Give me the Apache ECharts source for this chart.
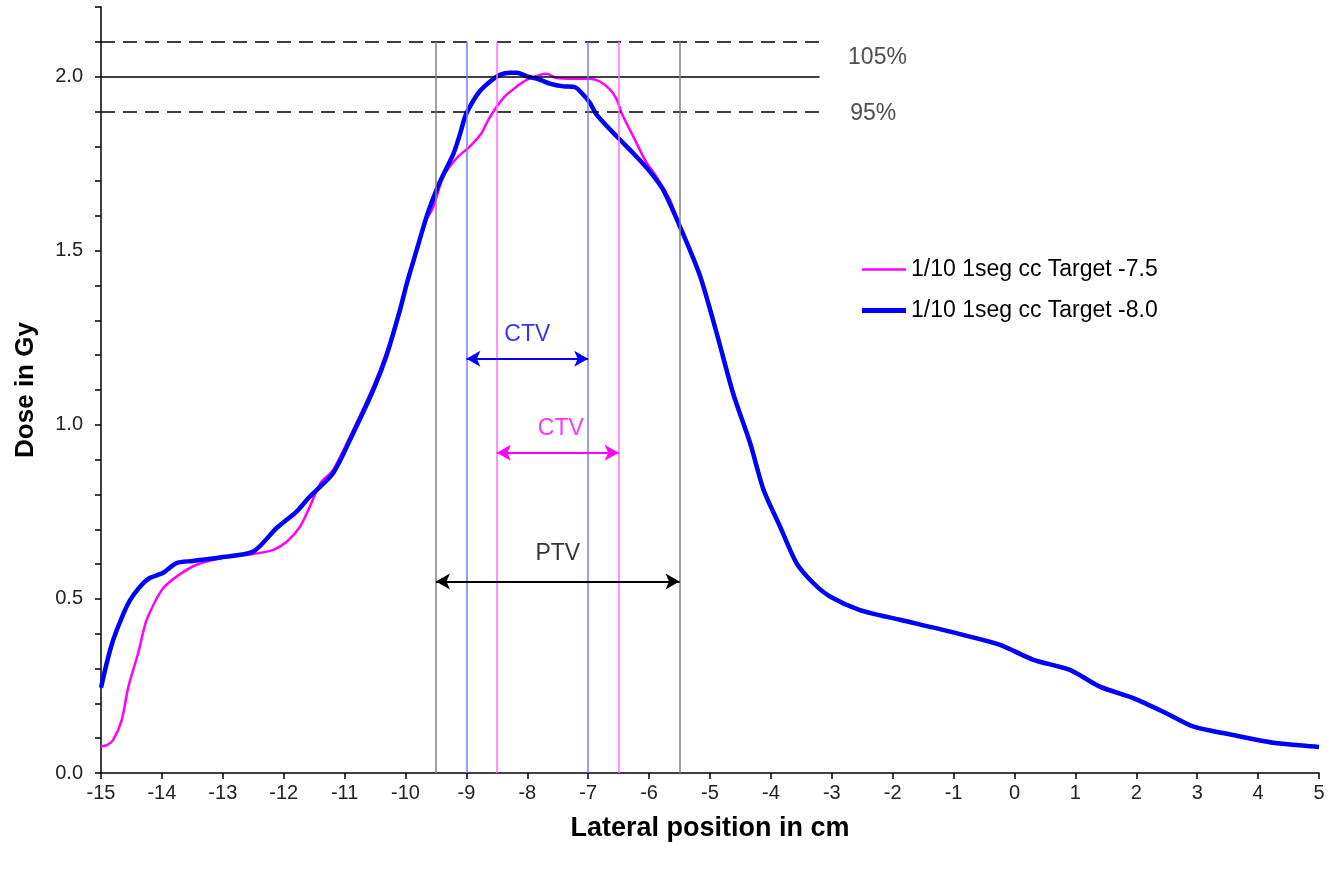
<!DOCTYPE html>
<html>
<head>
<meta charset="utf-8">
<script src="https://cdn.jsdelivr.net/npm/echarts@6/dist/echarts.min.js"></script>
<style>
html,body{margin:0;padding:0;background:#fff;}
#chart{width:1336px;height:873px;}
</style>
</head>
<body>
<div id="chart"></div>
<script>
// ---- Data ----
const seriesNames = ['1/10 1seg cc Target -7.5', '1/10 1seg cc Target -8.0'];

const posMagenta = [-15.0,-14.9,-14.8,-14.66,-14.55,-14.39,-14.25,-14.0,-13.76,-13.43,-12.94,-12.5,-12.17,-11.95,-11.73,-11.57,-11.4,-11.19,-10.86,-10.53,-10.31,-10.09,-9.98,-9.82,-9.65,-9.54,-9.38,-9.16,-8.94,-8.75,-8.64,-8.5,-8.34,-8.17,-8.01,-7.79,-7.68,-7.52,-7.24,-6.97,-6.81,-6.64,-6.53,-6.45,-6.26,-6.04,-5.88,-5.66,-5.47,-5.16,-4.89,-4.62,-4.34,-4.12,-3.85,-3.58,-3.3,-3.03,-2.54,-1.88,-1.06,-0.24,0.31,0.91,1.4,1.95,2.5,2.94,3.59,4.25,4.77,5.0];
const doseMagenta = [0.076,0.08,0.095,0.152,0.248,0.344,0.44,0.526,0.564,0.598,0.62,0.629,0.641,0.664,0.708,0.765,0.832,0.87,0.985,1.11,1.21,1.335,1.41,1.5,1.59,1.627,1.713,1.766,1.8,1.838,1.876,1.914,1.948,1.972,1.991,2.005,2.008,1.996,1.994,1.994,1.986,1.963,1.934,1.895,1.828,1.752,1.713,1.647,1.56,1.43,1.268,1.095,0.952,0.818,0.712,0.606,0.547,0.508,0.469,0.441,0.408,0.37,0.327,0.298,0.25,0.217,0.173,0.135,0.11,0.088,0.079,0.076];

const posBlue = [-15.0,-14.9,-14.8,-14.65,-14.52,-14.36,-14.2,-13.98,-13.76,-13.49,-13.05,-12.5,-12.12,-11.79,-11.57,-11.19,-10.86,-10.53,-10.31,-10.09,-9.98,-9.82,-9.65,-9.49,-9.38,-9.21,-9.1,-9.02,-8.91,-8.78,-8.61,-8.45,-8.28,-8.17,-8.01,-7.79,-7.63,-7.41,-7.22,-7.08,-6.97,-6.86,-6.53,-6.26,-5.99,-5.77,-5.47,-5.16,-4.89,-4.62,-4.34,-4.12,-3.85,-3.58,-3.3,-3.03,-2.54,-1.88,-1.06,-0.24,0.31,0.91,1.4,1.95,2.5,2.94,3.59,4.25,4.77,5.0];
const doseBlue = [0.245,0.32,0.382,0.45,0.497,0.535,0.56,0.575,0.603,0.609,0.619,0.636,0.703,0.751,0.794,0.861,0.976,1.1,1.2,1.33,1.405,1.5,1.6,1.675,1.718,1.78,1.838,1.886,1.924,1.958,1.986,2.005,2.011,2.011,2.001,1.991,1.98,1.972,1.97,1.948,1.924,1.89,1.828,1.78,1.728,1.675,1.56,1.426,1.263,1.09,0.947,0.813,0.708,0.603,0.545,0.507,0.468,0.44,0.406,0.368,0.325,0.296,0.248,0.215,0.171,0.133,0.109,0.087,0.078,0.075];

// Reference dose levels (105%, 100%, 95%)
const refLevels = [2.1, 2.0, 1.9];
const refLabels = ['105%', '', '95%'];
const refLineStart = -15;
const refLineEnd = -3.2;

// Volume boundaries
const ptvBounds = [-9.5, -5.5];
const ctvBlueBounds = [-9.0, -7.0];
const ctvMagentaBounds = [-8.5, -6.5];
const boundTop = 2.1;

// Arrow heights and text positions
const ctvBlueArrowY = 1.19, ctvBlueTextY = 1.26;
const ctvMagentaArrowY = 0.92, ctvMagentaTextY = 0.99;
const ptvArrowY = 0.55, ptvTextY = 0.63;
const refLabelX = -2.25;

// x / y ticks
const xMin = -15, xMax = 5, xStep = 1;
const yMin = 0, yMax = 2.2, yStep = 0.1;

// ---- Build ----
const zip = (xs, ys) => xs.map((x, i) => [x, ys[i]]);
const FONT = 'Liberation Sans, Arial, sans-serif';

function vline(x, color) {
  return [{ coord: [x, 0], lineStyle: { color: color, width: 1.5, type: 'solid' } }, { coord: [x, boundTop] }];
}
function hline(y, dashed) {
  return [{ coord: [refLineStart, y], lineStyle: { color: '#000', width: 1.6, type: dashed ? [14, 8] : 'solid' } }, { coord: [refLineEnd, y] }];
}
function arrow(a, b, y, color) {
  return [{ coord: [a, y], symbol: 'arrow', lineStyle: { color: color, width: 2, type: 'solid' } }, { coord: [b, y], symbol: 'arrow' }];
}

const chart = echarts.init(document.getElementById('chart'), null, { renderer: 'canvas' });

const option = {
  backgroundColor: '#fff',
  animation: false,
  grid: { left: 101, right: 17, top: 7, bottom: 100, containLabel: false },
  legend: {
    data: [
      { name: seriesNames[0], icon: 'path://M0,0L44,0L44,2.5L0,2.5Z' },
      { name: seriesNames[1], icon: 'path://M0,0L44,0L44,5L0,5Z' }
    ],
    orient: 'vertical',
    left: 857,
    top: 253,
    itemWidth: 44,
    itemHeight: 14,
    itemGap: 18,
    symbolKeepAspect: true,
    textStyle: { fontSize: 23, color: '#000', fontFamily: FONT }
  },
  xAxis: {
    type: 'value', min: xMin, max: xMax, interval: xStep,
    name: 'Lateral position in cm', nameLocation: 'middle', nameGap: 42,
    nameTextStyle: { fontSize: 27, fontWeight: 'bold', color: '#000', fontFamily: FONT },
    axisLine: { onZero: false, lineStyle: { color: '#000', width: 1.5 } },
    axisTick: { show: true, length: 6, lineStyle: { color: '#000', width: 1.5 } },
    axisLabel: { fontSize: 20, color: '#222', margin: 10, fontFamily: FONT },
    splitLine: { show: false }
  },
  yAxis: {
    type: 'value', min: yMin, max: yMax, interval: yStep,
    name: 'Dose in Gy', nameLocation: 'middle', nameGap: 62, nameRotate: 90,
    nameTextStyle: { fontSize: 26, fontWeight: 'bold', color: '#000', fontFamily: FONT },
    axisLine: { show: true, onZero: false, lineStyle: { color: '#000', width: 1.5 } },
    axisTick: { show: true, length: 6, lineStyle: { color: '#000', width: 1.5 } },
    axisLabel: {
      fontSize: 20, color: '#222', margin: 18, fontFamily: FONT,
      formatter: function (v) { const r = Math.round(v * 10); return r % 5 === 0 ? (r / 10).toFixed(1) : ''; }
    },
    splitLine: { show: false }
  },
  series: [
    {
      name: 'annotations', type: 'line', data: [], silent: true, z: 1,
      markLine: {
        silent: true, animation: false, symbol: ['none', 'none'], symbolSize: [12, 14],
        label: { show: false },
        data: [
          hline(refLevels[0], true), hline(refLevels[1], false), hline(refLevels[2], true),
          vline(ptvBounds[0], '#808080'), vline(ptvBounds[1], '#808080'),
          vline(ctvBlueBounds[0], '#7a7aff'), vline(ctvBlueBounds[1], '#7a7aff'),
          vline(ctvMagentaBounds[0], '#ff6cff'), vline(ctvMagentaBounds[1], '#ff6cff'),
          arrow(ctvBlueBounds[0], ctvBlueBounds[1], ctvBlueArrowY, '#0000ff'),
          arrow(ctvMagentaBounds[0], ctvMagentaBounds[1], ctvMagentaArrowY, '#ff00ff'),
          arrow(ptvBounds[0], ptvBounds[1], ptvArrowY, '#000000')
        ]
      }
    },
    {
      name: 'texts', type: 'scatter', symbolSize: 0, silent: true, z: 5,
      data: [
        { value: [(ctvBlueBounds[0] + ctvBlueBounds[1]) / 2, ctvBlueTextY], name: 'CTV', label: { color: '#0000ff' } },
        { value: [(ctvMagentaBounds[0] + ctvMagentaBounds[1]) / 2 + 0.05, ctvMagentaTextY], name: 'CTV', label: { color: '#ff00ff' } },
        { value: [(ptvBounds[0] + ptvBounds[1]) / 2, ptvTextY], name: 'PTV', label: { color: '#000' } },
        { value: [refLabelX, refLevels[0] - 0.045], name: refLabels[0], label: { color: '#222', fontSize: 23 } },
        { value: [refLabelX - 0.07, refLevels[2] - 0.005], name: refLabels[2], label: { color: '#222', fontSize: 23 } }
      ],
      label: { show: true, position: 'inside', formatter: '{b}', fontSize: 23, fontFamily: FONT }
    },
    {
      name: seriesNames[0], type: 'line', data: zip(posMagenta, doseMagenta),
      showSymbol: false, symbol: 'none', smooth: 0.25, z: 3,
      lineStyle: { color: '#ff00ff', width: 2.5 }, itemStyle: { color: '#ff00ff' }
    },
    {
      name: seriesNames[1], type: 'line', data: zip(posBlue, doseBlue),
      showSymbol: false, symbol: 'none', smooth: 0.25, z: 4,
      lineStyle: { color: '#0000ff', width: 4.5 }, itemStyle: { color: '#0000ff' }
    }
  ]
};
chart.setOption(option);
</script>
</body>
</html>
